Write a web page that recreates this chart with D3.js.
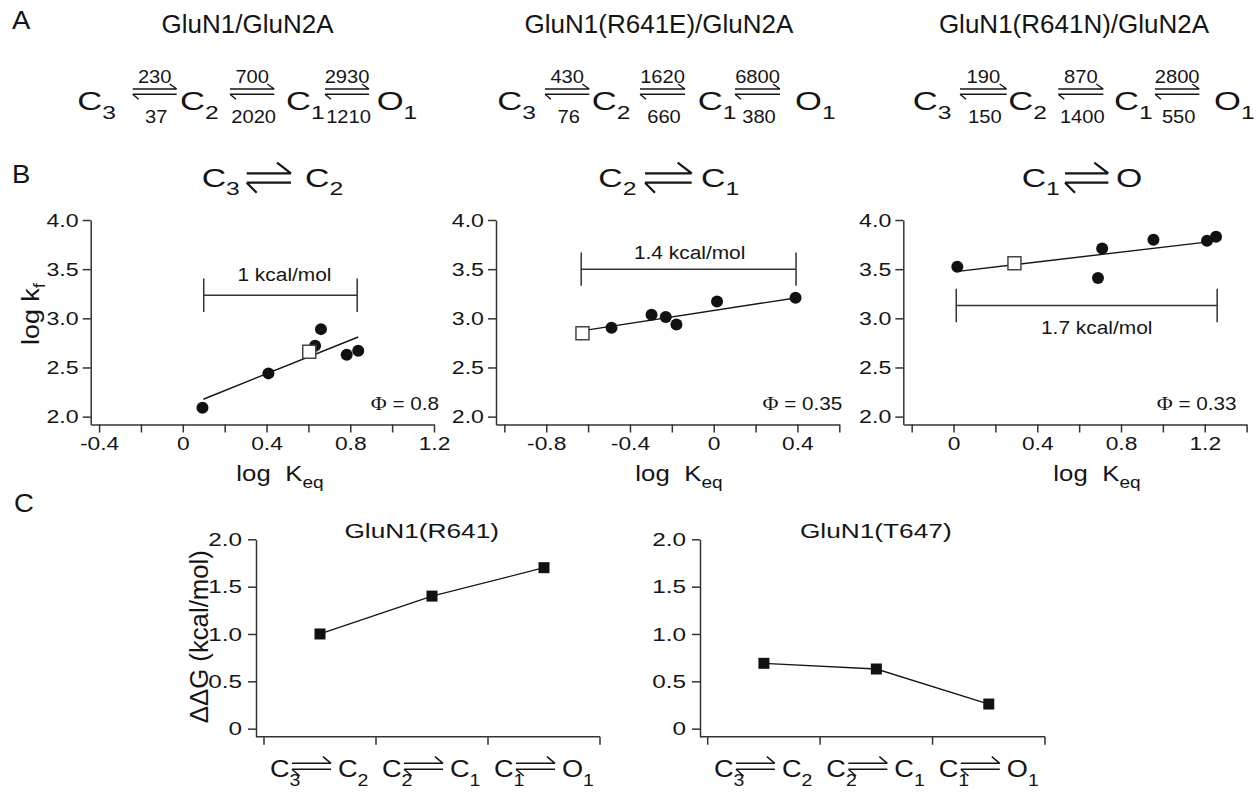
<!DOCTYPE html>
<html>
<head>
<meta charset="utf-8">
<script src="https://cdn.jsdelivr.net/npm/d3@7"></script>
<style>
  html, body { margin: 0; padding: 0; background: #fff; }
  svg { display: block; font-family: "Liberation Sans", Arial, Helvetica, sans-serif; }
</style>
</head>
<body>
<svg id="fig" width="1256" height="792"></svg>
<script>
// ---------- Panel A: kinetic schemes (rates in s^-1) ----------
const constructNames = ["GluN1/GluN2A", "GluN1(R641E)/GluN2A", "GluN1(R641N)/GluN2A"];
const schemeStates = [["C", "3"], ["C", "2"], ["C", "1"], ["O", "1"]];
const forwardRates = [[230, 700, 2930], [430, 1620, 6800], [190, 870, 2800]];
const backwardRates = [[37, 2020, 1210], [76, 660, 380], [150, 1400, 550]];

// ---------- Panel B: rate-equilibrium relationships ----------
const transitionsB = [[["C", "3"], ["C", "2"]], [["C", "2"], ["C", "1"]], [["C", "1"], ["O", ""]]];
const mutantLogKeq = [
  [0.094, 0.409, 0.632, 0.660, 0.783, 0.838],
  [-0.488, -0.297, -0.229, -0.178, 0.016, 0.391],
  [0.018, 0.690, 0.710, 0.955, 1.211, 1.254]
];
const mutantLogKf = [
  [2.09, 2.44, 2.72, 2.89, 2.63, 2.67],
  [2.905, 3.037, 3.014, 2.936, 3.17, 3.21],
  [3.525, 3.41, 3.71, 3.80, 3.79, 3.83]
];
const wtLogKeq = [0.604, -0.627, 0.291];
const wtLogKf = [2.66, 2.848, 3.56];
const fitLogKeq = [[0.098, 0.838], [-0.624, 0.391], [0.021, 1.238]];
const fitLogKf = [[2.177, 2.81], [2.875, 3.207], [3.478, 3.783]];
const phiValues = ["0.8", "0.35", "0.33"];
const barKcal = [1, 1.4, 1.7];
const barStart = [0.1, -0.633, 0.013];
const barLevel = [3.235, 3.5, 3.13];
const xTicksB = [
  [-0.4, -0.2, 0, 0.2, 0.4, 0.6, 0.8, 1.0, 1.2],
  [-1.0, -0.8, -0.6, -0.4, -0.2, 0, 0.2, 0.4, 0.6],
  [-0.2, 0, 0.2, 0.4, 0.6, 0.8, 1.0, 1.2, 1.4]
];
const yTicksB = [2.0, 2.5, 3.0, 3.5, 4.0];

// ---------- Panel C: transition free-energy changes ----------
const siteNames = ["GluN1(R641)", "GluN1(T647)"];
const transitionKeys = ["C3-C2", "C2-C1", "C1-O1"];
const transitionsC = [[["C", "3"], ["C", "2"]], [["C", "2"], ["C", "1"]], [["C", "1"], ["O", "1"]]];
const ddG = [[1.0, 1.4, 1.7], [0.69, 0.63, 0.26]];
const yTicksC = [0, 0.5, 1.0, 1.5, 2.0];

// 2.303 RT near room temperature, kcal/mol per log unit
const KCAL_PER_LOG = 1.364;

const INK = "#151515", AXIS = "#333";
const SERIF = "'Liberation Serif', 'Times New Roman', serif";
const svg = d3.select("#fig");

// ---------- helpers ----------
function stateLabel(g, x, y, st, size, subSize, subDy, s) {
  const t = g.append("text")
    .attr("transform", `translate(${x},${y}) scale(${s},1)`)
    .attr("font-size", size).attr("fill", INK);
  t.append("tspan").text(st[0]);
  if (st[1]) t.append("tspan").attr("font-size", subSize).attr("dy", subDy).text(st[1]);
}

// two states in one text run; the second state starts at local offset `x2`
function transitionLabel(g, x, y, tr, size, subSize, subDy, s, x2) {
  const t = g.append("text")
    .attr("transform", `translate(${x},${y}) scale(${s},1)`)
    .attr("font-size", size).attr("fill", INK);
  t.append("tspan").text(tr[0][0]);
  t.append("tspan").attr("font-size", subSize).attr("dy", subDy).text(tr[0][1]);
  t.append("tspan").attr("x", x2 / s).attr("dy", -subDy).text(tr[1][0]);
  if (tr[1][1]) t.append("tspan").attr("font-size", subSize).attr("dy", subDy).text(tr[1][1]);
}

// equilibrium arrow: upper harpoon to the right, lower harpoon to the left
function harpoons(g, x1, x2, yTop, gap, topBarb, botBarb, w) {
  const p = d3.path();
  p.moveTo(x1, yTop); p.lineTo(x2, yTop);
  p.moveTo(x2, yTop); p.lineTo(x2 - topBarb[0], yTop - topBarb[1]);
  p.moveTo(x1, yTop + gap); p.lineTo(x2, yTop + gap);
  p.moveTo(x1, yTop + gap); p.lineTo(x1 + botBarb[0], yTop + gap + botBarb[1]);
  g.append("path").attr("d", p.toString()).attr("fill", "none")
    .attr("stroke", INK).attr("stroke-width", w).attr("stroke-linecap", "butt");
}

function styleAxis(axisG, size, s) {
  axisG.attr("font-size", null).attr("font-family", null);
  axisG.selectAll("path, line").attr("stroke", AXIS).attr("stroke-width", 1.5);
  axisG.selectAll(".tick text").each(function () {
    const t = d3.select(this);
    const x = +t.attr("x") || 0, y = +t.attr("y") || 0;
    t.attr("x", null).attr("y", null)
      .attr("transform", `translate(${x},${y}) scale(${s},1)`)
      .attr("font-size", size).attr("fill", INK);
  });
}

function stretchedText(g, x, y, str, size, s, anchor) {
  return g.append("text")
    .attr("transform", `translate(${x},${y}) scale(${s},1)`)
    .attr("text-anchor", anchor || "middle")
    .attr("font-size", size).attr("fill", INK).text(str);
}

// ---------- panel letters ----------
[["A", 12, 28.5], ["B", 12, 183], ["C", 14, 512]].forEach(([l, x, y]) => {
  stretchedText(svg, x, y, l, 25, 1.1, "start");
});

// ---------- Panel A ----------
const schemeLayout = [
  { title: 247.5, states: [77.3, 180, 286, 376.7], arrows: [[132.7, 176.7], [230, 274.3], [325, 369]] },
  { title: 659, states: [497.3, 591.7, 697.7, 795], arrows: [[545, 589.3], [640, 685], [735, 780]] },
  { title: 1074, states: [912.7, 1008.3, 1114, 1214], arrows: [[960, 1006.7], [1058.3, 1103.3], [1155, 1199.3]] }
];
const gA = svg.append("g");
constructNames.forEach((name, i) => {
  const L = schemeLayout[i];
  gA.append("text").attr("x", L.title).attr("y", 33).attr("text-anchor", "middle")
    .attr("font-size", 26).attr("fill", INK).text(name);
  schemeStates.forEach((st, j) => stateLabel(gA, L.states[j], 110, st, 26, 18.5, 9, 1.33));
  L.arrows.forEach(([x1, x2], j) => {
    harpoons(gA, x1, x2, 89, 5.3, [7, 5], [6, 5], 1.4);
    const cx = (x1 + x2) / 2;
    stretchedText(gA, cx, 83.3, String(forwardRates[i][j]), 17.5, 1.15);
    stretchedText(gA, cx + 1.5, 123.3, String(backwardRates[i][j]), 17.5, 1.15);
  });
});

// ---------- Panel B ----------
const bXRange = [[90.7, 434], [496, 839.3], [903.3, 1246.6]];
const bXDomain = [[-0.44, 1.2], [-1.04, 0.6], [-0.24, 1.4]];
const bTitle = [
  { s1: 201.7, a: [246.7, 291], s2: 305 },
  { s1: 598.3, a: [645, 691.7], s2: 701 },
  { s1: 1021.7, a: [1065, 1108.3], s2: 1116 }
];
const bXLabel = [280, 679, 1097];
const phiDx = [5, 3, -10];
const barLabelDx = [4, 1, 10], barLabelDy = [-14, -10, 28];
const yB = d3.scaleLinear().domain([1.92, 4.0]).range([424.5, 220]);
const fmtB = d => {
  if (Math.round(Math.abs(d) * 10) % 4 !== 0) return "";
  if (Math.abs(d) < 1e-9) return "0";
  return (d < 0 ? "-" : "") + Math.abs(d).toFixed(1);
};

transitionsB.forEach((tr, i) => {
  const g = svg.append("g");
  const x = d3.scaleLinear().domain(bXDomain[i]).range(bXRange[i]);

  // title
  const T = bTitle[i];
  transitionLabel(g, T.s1, 186.7, tr, 26, 19, 8, 1.3, T.s2 - T.s1);
  harpoons(g, T.a[0], T.a[1], 173.3, 9.4, [14, 10.7], [10, 10], 2.2);

  // axes
  const ay = g.append("g").attr("transform", `translate(${bXRange[i][0]},0)`)
    .call(d3.axisLeft(yB).tickValues(yTicksB).tickSize(8).tickPadding(4)
      .tickSizeOuter(0).tickFormat(d => d.toFixed(1)));
  styleAxis(ay, 19, 1.22);
  const ax = g.append("g").attr("transform", `translate(0,${yB.range()[0]})`)
    .call(d3.axisBottom(x).tickValues(xTicksB[i]).tickSize(8).tickPadding(4)
      .tickSizeOuter(0).tickFormat(fmtB));
  styleAxis(ax, 19, 1.2);

  // scale bar (free-energy span)
  const bx0 = x(barStart[i]), bx1 = x(barStart[i] + barKcal[i] / KCAL_PER_LOG), by = yB(barLevel[i]);
  const bp = d3.path();
  bp.moveTo(bx0, by); bp.lineTo(bx1, by);
  bp.moveTo(bx0, by - 16.7); bp.lineTo(bx0, by + 16.7);
  bp.moveTo(bx1, by - 16.7); bp.lineTo(bx1, by + 16.7);
  g.append("path").attr("d", bp.toString()).attr("fill", "none")
    .attr("stroke", AXIS).attr("stroke-width", 1.5);
  stretchedText(g, (bx0 + bx1) / 2 + barLabelDx[i], by + barLabelDy[i],
    `${barKcal[i]} kcal/mol`, 19, 1.1);

  // linear fit
  const fit = fitLogKeq[i].map((k, j) => [k, fitLogKf[i][j]]);
  g.append("path").attr("d", d3.line().x(d => x(d[0])).y(d => yB(d[1]))(fit))
    .attr("fill", "none").attr("stroke", INK).attr("stroke-width", 1.4);

  // mutant points
  g.selectAll("circle").data(mutantLogKeq[i].map((k, j) => [k, mutantLogKf[i][j]]))
    .join("circle").attr("cx", d => x(d[0])).attr("cy", d => yB(d[1])).attr("r", 6)
    .attr("fill", "#111");

  // reference (open square)
  const s = 13;
  g.append("rect").attr("x", x(wtLogKeq[i]) - s / 2).attr("y", yB(wtLogKf[i]) - s / 2)
    .attr("width", s).attr("height", s).attr("fill", "#fff")
    .attr("stroke", "#444").attr("stroke-width", 1.5);

  // phi value
  const phi = g.append("text")
    .attr("transform", `translate(${bXRange[i][1] + phiDx[i]},${yB(2.07)}) scale(1.15,1)`)
    .attr("text-anchor", "end").attr("font-size", 18).attr("fill", INK);
  phi.append("tspan").attr("font-family", SERIF).attr("font-size", 19).text("\u03A6");
  phi.append("tspan").text(` = ${phiValues[i]}`);

  // x label
  const xl = g.append("text")
    .attr("transform", `translate(${bXLabel[i]},481) scale(1.12,1)`)
    .attr("text-anchor", "middle").attr("font-size", 23).attr("fill", INK);
  xl.append("tspan").text("log");
  xl.append("tspan").attr("dx", 13).text("K");
  xl.append("tspan").attr("font-size", 17).attr("dy", 7).text("eq");

  if (i === 0) {
    const yl = g.append("text")
      .attr("transform", `translate(39,314) rotate(-90) scale(1.12,1)`)
      .attr("text-anchor", "middle").attr("font-size", 24).attr("fill", INK);
    yl.append("tspan").text("log k");
    yl.append("tspan").attr("font-size", 17).attr("dy", 6).text("f");
  }
});

// ---------- Panel C ----------
const cLayout = [
  { axisX: 256, band: [264, 600], title: 421.7 },
  { axisX: 700, band: [707.7, 1045], title: 875.8 }
];
const yC = d3.scaleLinear().domain([-0.085, 2.0]).range([736.7, 539.3]);

siteNames.forEach((site, i) => {
  const L = cLayout[i];
  const g = svg.append("g");
  const xb = d3.scaleBand().domain(transitionKeys).range(L.band).padding(0);
  const cx = k => xb(k) + xb.bandwidth() / 2;
  const y0 = yC.range()[0];

  stretchedText(g, L.title, 538.3, site, 21, 1.25);

  const ay = g.append("g").attr("transform", `translate(${L.axisX},0)`)
    .call(d3.axisLeft(yC).tickValues(yTicksC).tickSize(8).tickPadding(6)
      .tickSizeOuter(0).tickFormat(d => d === 0 ? "0" : d.toFixed(1)));
  styleAxis(ay, 19, 1.28);

  // category axis with ticks on band boundaries
  const bounds = transitionKeys.map(k => xb(k)).concat([L.band[1]]);
  const xp = d3.path();
  xp.moveTo(L.axisX, y0); xp.lineTo(L.band[1], y0);
  bounds.forEach(b => { xp.moveTo(b, y0); xp.lineTo(b, y0 + 8); });
  g.append("path").attr("d", xp.toString()).attr("fill", "none")
    .attr("stroke", AXIS).attr("stroke-width", 1.5);

  transitionsC.forEach((tr, j) => {
    const c = cx(transitionKeys[j]);
    transitionLabel(g, c - 50, 776.7, tr, 23, 16.5, 9, 1.18, 68);
    harpoons(g, c - 28, c + 11, 763.3, 6, [8, 6.6], [7.7, 6.7], 1.5);
  });

  const pts = transitionKeys.map((k, j) => [cx(k), yC(ddG[i][j])]);
  g.append("path").attr("d", d3.line()(pts)).attr("fill", "none")
    .attr("stroke", INK).attr("stroke-width", 1.3);
  const sq = 11;
  g.selectAll("rect.pt").data(pts).join("rect").attr("class", "pt")
    .attr("x", d => d[0] - sq / 2).attr("y", d => d[1] - sq / 2)
    .attr("width", sq).attr("height", sq).attr("fill", "#111");

  if (i === 0) {
    g.append("text")
      .attr("transform", `translate(208,636.7) rotate(-90) scale(1.03,1)`)
      .attr("text-anchor", "middle").attr("font-size", 25).attr("fill", INK)
      .text("\u0394\u0394G (kcal/mol)");
  }
});
</script>
</body>
</html>
